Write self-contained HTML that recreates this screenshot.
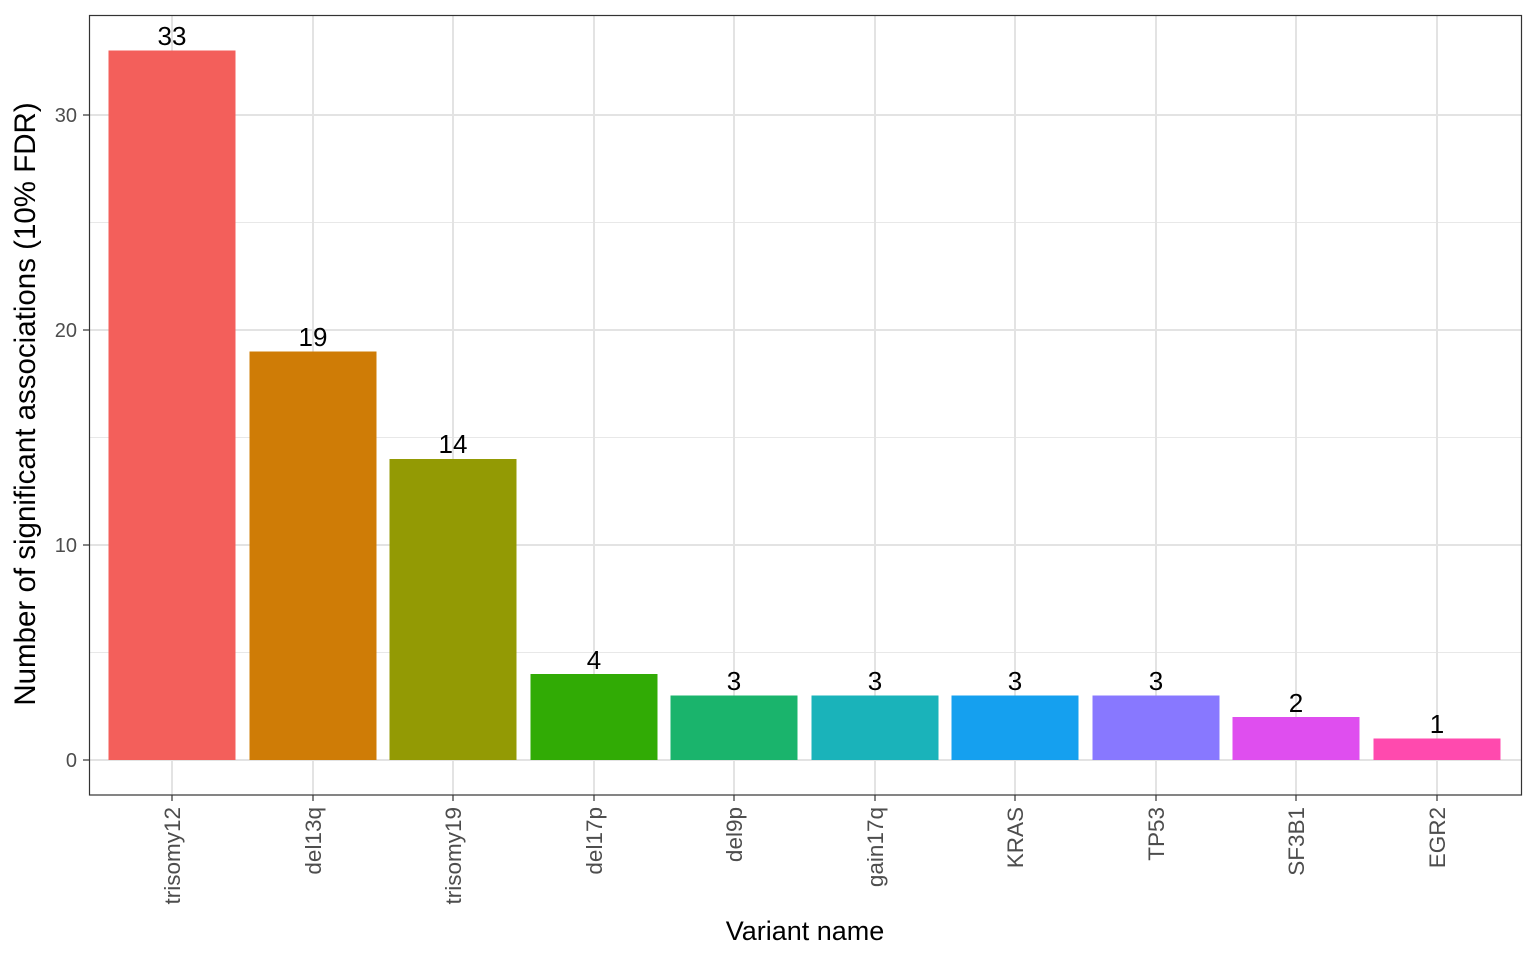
<!DOCTYPE html>
<html><head><style>body{margin:0;background:#fff}</style></head><body>
<svg width="1536" height="960" xmlns="http://www.w3.org/2000/svg" font-family="Liberation Sans, sans-serif">
<rect width="1536" height="960" fill="#fff"/>
<g stroke="#e8e8e8" stroke-width="1">
<line x1="89" x2="1522" y1="652.5" y2="652.5"/><line x1="89" x2="1522" y1="437.5" y2="437.5"/><line x1="89" x2="1522" y1="222.5" y2="222.5"/>
</g>
<g stroke="#e3e3e3" stroke-width="2">
<line x1="89" x2="1522" y1="760" y2="760"/><line x1="89" x2="1522" y1="545" y2="545"/><line x1="89" x2="1522" y1="330" y2="330"/><line x1="89" x2="1522" y1="115" y2="115"/>
<line y1="15" y2="795" x1="172" x2="172"/><line y1="15" y2="795" x1="313" x2="313"/><line y1="15" y2="795" x1="453" x2="453"/><line y1="15" y2="795" x1="594" x2="594"/><line y1="15" y2="795" x1="734" x2="734"/><line y1="15" y2="795" x1="875" x2="875"/><line y1="15" y2="795" x1="1015" x2="1015"/><line y1="15" y2="795" x1="1156" x2="1156"/><line y1="15" y2="795" x1="1296" x2="1296"/><line y1="15" y2="795" x1="1437" x2="1437"/>
</g>
<rect x="108.5" y="50.5" width="127" height="709.5" fill="#F35F5B"/>
<rect x="249.5" y="351.5" width="127" height="408.5" fill="#CF7C06"/>
<rect x="389.5" y="459" width="127" height="301" fill="#939A04"/>
<rect x="530.5" y="674" width="127" height="86" fill="#31AB05"/>
<rect x="670.5" y="695.5" width="127" height="64.5" fill="#1AB46C"/>
<rect x="811.5" y="695.5" width="127" height="64.5" fill="#1AB3BA"/>
<rect x="951.5" y="695.5" width="127" height="64.5" fill="#15A0EF"/>
<rect x="1092.5" y="695.5" width="127" height="64.5" fill="#8878FF"/>
<rect x="1232.5" y="717" width="127" height="43" fill="#DF4EEF"/>
<rect x="1373.5" y="738.5" width="127" height="21.5" fill="#FF4AAE"/>
<g font-size="26" text-anchor="middle" fill="#000">
<text x="172" y="45">33</text><text x="313" y="346">19</text><text x="453" y="453">14</text><text x="594" y="669">4</text><text x="734" y="690">3</text><text x="875" y="690">3</text><text x="1015" y="690">3</text><text x="1156" y="690">3</text><text x="1296" y="712">2</text><text x="1437" y="733">1</text>
</g>
<rect x="89.5" y="15.5" width="1432" height="779.5" fill="none" stroke="#333" stroke-width="1.2"/>
<g stroke="#333" stroke-width="1.2">
<line x1="83" x2="89" y1="760" y2="760"/><line x1="83" x2="89" y1="545" y2="545"/><line x1="83" x2="89" y1="330" y2="330"/><line x1="83" x2="89" y1="115" y2="115"/>
<line y1="795" y2="801" x1="172" x2="172"/><line y1="795" y2="801" x1="313" x2="313"/><line y1="795" y2="801" x1="453" x2="453"/><line y1="795" y2="801" x1="594" x2="594"/><line y1="795" y2="801" x1="734" x2="734"/><line y1="795" y2="801" x1="875" x2="875"/><line y1="795" y2="801" x1="1015" x2="1015"/><line y1="795" y2="801" x1="1156" x2="1156"/><line y1="795" y2="801" x1="1296" x2="1296"/><line y1="795" y2="801" x1="1437" x2="1437"/>
</g>
<g font-size="20" fill="#4d4d4d" text-anchor="end">
<text x="77" y="767">0</text><text x="77" y="552">10</text><text x="77" y="337">20</text><text x="77" y="122">30</text>
</g>
<g font-size="22.5" fill="#4d4d4d" text-anchor="end">
<text transform="translate(180,807) rotate(-90)">trisomy12</text>
<text transform="translate(321,807) rotate(-90)">del13q</text>
<text transform="translate(461,807) rotate(-90)">trisomy19</text>
<text transform="translate(602,807) rotate(-90)">del17p</text>
<text transform="translate(742,807) rotate(-90)">del9p</text>
<text transform="translate(883,807) rotate(-90)">gain17q</text>
<text transform="translate(1023,807) rotate(-90)">KRAS</text>
<text transform="translate(1164,807) rotate(-90)">TP53</text>
<text transform="translate(1304,807) rotate(-90)">SF3B1</text>
<text transform="translate(1445,807) rotate(-90)">EGR2</text>
</g>
<text x="805" y="940" font-size="27" text-anchor="middle">Variant name</text>
<text transform="translate(35,404) rotate(-90)" font-size="29.5" text-anchor="middle">Number of significant associations (10% FDR)</text>
</svg>
</body></html>
